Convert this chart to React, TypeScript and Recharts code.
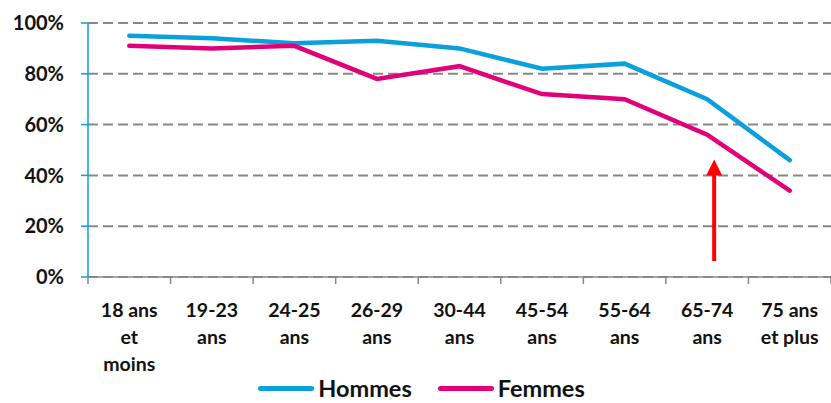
import React from 'react';
import { LineChart, Line, XAxis, YAxis, CartesianGrid, Legend, ReferenceLine } from 'recharts';

const ageGroups = ['18 ans et moins', '19-23 ans', '24-25 ans', '26-29 ans', '30-44 ans', '45-54 ans', '55-64 ans', '65-74 ans', '75 ans et plus'];
const tickLines = [['18 ans', 'et', 'moins'], ['19-23', 'ans'], ['24-25', 'ans'], ['26-29', 'ans'], ['30-44', 'ans'], ['45-54', 'ans'], ['55-64', 'ans'], ['65-74', 'ans'], ['75 ans', 'et plus']];
const hommes = [95, 94, 92, 93, 90, 82, 84, 70, 46];
const femmes = [91, 90, 91, 78, 83, 72, 70, 56, 34];
const yTicks = [0, 20, 40, 60, 80, 100];
const arrowGroup = '65-74 ans';
const arrowFrom = 6.3;
const arrowTo = 46.3;

const data = ageGroups.map((g, i) => ({ group: g, Hommes: hommes[i], Femmes: femmes[i] }));

const BLUE = '#0aa0dc';
const PINK = '#e2007a';
const FONT = 'Lato, "Open Sans", sans-serif';
const HALF_BAND = (831 - 88) / 9 / 2;

const XTick = (props: any) => {
  const { x, y, index } = props;
  const lines = tickLines[index] || [];
  return (
    <g>
      <line x1={x - HALF_BAND} y1={y - 8} x2={x - HALF_BAND} y2={y - 1} stroke="#888" strokeWidth={1.5} />
      {index === ageGroups.length - 1 && (
        <line x1={x + HALF_BAND} y1={y - 8} x2={x + HALF_BAND} y2={y - 1} stroke="#888" strokeWidth={1.5} />
      )}
      <text x={x} y={y + 32} textAnchor="middle" fontFamily={FONT} fontWeight="bold" fontSize={19.5} fill="#111">
        {lines.map((l, i) => (
          <tspan key={i} x={x} dy={i === 0 ? 0 : 27}>{l}</tspan>
        ))}
      </text>
    </g>
  );
};

const Arrow = (props: any) => {
  const { x1, y1, y2 } = props;
  const x = x1 + 7;
  return (
    <g>
      <line x1={x} y1={y1} x2={x} y2={y2 + 12} stroke="#ff0000" strokeWidth={4} />
      <polygon points={`${x - 8},${y2 + 16} ${x + 8},${y2 + 16} ${x},${y2}`} fill="#ff0000" />
    </g>
  );
};

const LegendContent = () => (
  <div style={{ display: 'flex', justifyContent: 'center', alignItems: 'center', gap: 26, fontFamily: FONT, fontWeight: 'bold', fontSize: 23.5, lineHeight: '26px', color: '#111', paddingLeft: 12, paddingTop: 12 }}>
    {[{ name: 'Hommes', color: BLUE }, { name: 'Femmes', color: PINK }].map((s) => (
      <div key={s.name} style={{ display: 'flex', alignItems: 'center', gap: 4 }}>
        <div style={{ width: 56, height: 5, borderRadius: 3, background: s.color }} />
        <span>{s.name}</span>
      </div>
    ))}
  </div>
);

export default function App() {
  return (
    <div style={{ position: 'absolute', left: 0, top: 0, width: 831, height: 403, background: '#fff' }}>
      <LineChart width={831} height={403} data={data} margin={{ top: 23, right: 0, left: 0, bottom: 0 }}>
        <CartesianGrid vertical={false} stroke="#888" strokeWidth={2} strokeDasharray="10 5" />
        <XAxis
          dataKey="group"
          scale="band"
          height={86}
          axisLine={{ stroke: '#888', strokeWidth: 1.5 }}
          tickLine={false}
          tick={<XTick />}
          interval={0}
        />
        <YAxis
          domain={[0, 100]}
          ticks={yTicks}
          width={88}
          tickFormatter={(v) => `${v}%`}
          axisLine={{ stroke: BLUE, strokeWidth: 1.5 }}
          tickLine={{ stroke: BLUE, strokeWidth: 1.5 }}
          tickSize={7}
          tickMargin={17}
          tick={{ fontFamily: FONT, fontWeight: 'bold', fontSize: 20, fill: '#111' }}
        />
        <Legend verticalAlign="bottom" height={40} content={<LegendContent />} />
        <Line type="linear" dataKey="Hommes" stroke={BLUE} strokeWidth={4.5} strokeLinecap="round" dot={false} isAnimationActive={false} />
        <Line type="linear" dataKey="Femmes" stroke={PINK} strokeWidth={4.5} strokeLinecap="round" dot={false} isAnimationActive={false} />
        <ReferenceLine
          segment={[{ x: arrowGroup, y: arrowFrom }, { x: arrowGroup, y: arrowTo }]}
          shape={<Arrow />}
          ifOverflow="visible"
        />
      </LineChart>
    </div>
  );
}
